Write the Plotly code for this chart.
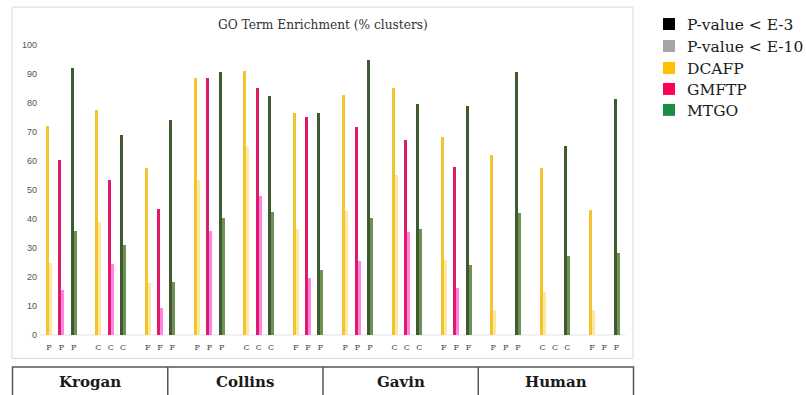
import plotly.graph_objects as go

# ---------------- data ----------------
datasets = ["Krogan", "Collins", "Gavin", "Human"]
ontologies = ["P", "C", "F"]
methods = ["DCAFP", "GMFTP", "MTGO"]

dcafp_e3 = [72, 77.5, 57.5, 88.5, 91.2, 76.5, 82.8, 85.3, 68.2, 62.1, 57.5, 43]
dcafp_e10 = [25, 39, 18, 53.5, 64.8, 36.7, 42.6, 55.2, 26, 8.5, 15, 8.5]
gmftp_e3 = [60.5, 53.5, 43.5, 88.5, 85.2, 75.1, 71.7, 67.3, 58.1, 0, 0, 0]
gmftp_e10 = [15.5, 24.5, 9.4, 35.7, 47.8, 19.7, 25.6, 35.4, 16.2, 0, 0, 0]
mtgo_e3 = [92, 69, 74, 90.8, 82.4, 76.5, 94.8, 79.7, 79, 90.8, 65.2, 81.4]
mtgo_e10 = [35.7, 31.2, 18.3, 40.3, 42.3, 22.5, 40.3, 36.6, 24.3, 42, 27.1, 28.3]

y_ticks = [0, 10, 20, 30, 40, 50, 60, 70, 80, 90, 100]
legend_labels = ["P-value < E-3", "P-value < E-10", "DCAFP", "GMFTP", "MTGO"]

# ---------------- styles ----------------
dark_colors = {"DCAFP": "#F5C32E", "GMFTP": "#E0196B", "MTGO": "#3F5A30"}
light_colors = {"DCAFP": "#FCE8A0", "GMFTP": "#FF85E0", "MTGO": "#6E9254"}
legend_colors = ["#000000", "#A6A6A6", "#FFC000", "#FF0055", "#1E8C46"]
SERIF = "DejaVu Serif"
SANS = "Liberation Sans"

W, H = 806, 395
L, R = 38, 625           # plot area pixel x
T, B = 45, 335.5         # plot area pixel y (100 -> T, 0 -> B)
slot_px = 12.34
first_px = 49
x0 = -(first_px - L) / slot_px
x1 = (R - first_px) / slot_px
bw = 3 / slot_px

def px(xp):
    return (xp - L) / (R - L)

def py(yp):
    return (B - yp) / (B - T)

series = {
    "DCAFP": (dcafp_e3, dcafp_e10),
    "GMFTP": (gmftp_e3, gmftp_e10),
    "MTGO": (mtgo_e3, mtgo_e10),
}

n_groups = len(datasets) * len(ontologies)
fig = go.Figure()

for m, name in enumerate(methods):
    e3, e10 = series[name]
    xs = [4 * g + m for g in range(n_groups)]
    fig.add_trace(go.Bar(x=xs, y=e3, width=bw, offset=-bw, marker_color=dark_colors[name],
                         marker_line_width=0, showlegend=False, name=name + " E-3"))
    fig.add_trace(go.Bar(x=xs, y=e10, width=bw, offset=0, marker_color=light_colors[name],
                         marker_line_width=0, showlegend=False, name=name + " E-10"))

tickvals, ticktext = [], []
for g in range(n_groups):
    for m in range(len(methods)):
        tickvals.append(4 * g + m)
        ticktext.append(ontologies[g % 3])

shapes = [
    dict(type="rect", xref="paper", yref="paper", x0=px(12), x1=px(633), y0=py(359), y1=py(7),
         line=dict(color="#D9D9D9", width=1), layer="below"),
    dict(type="line", xref="paper", yref="paper", x0=px(40), x1=px(625), y0=0, y1=0,
         line=dict(color="#E3E3E3", width=1), layer="below"),
    dict(type="rect", xref="paper", yref="paper", x0=px(12.5), x1=px(633.5), y0=py(398), y1=py(367.5),
         line=dict(color="#555555", width=1.5)),
]
tw = (633.5 - 12.5) / 4
annotations = [
    dict(text="GO Term Enrichment (% clusters)", xref="paper", yref="paper", x=px(322.5), y=py(25),
         showarrow=False, font=dict(family=SERIF, size=12.2, color="#333333"), xanchor="center", yanchor="middle"),
]
for i, ds in enumerate(datasets):
    if i > 0:
        xd = 12.5 + tw * i
        shapes.append(dict(type="line", xref="paper", yref="paper", x0=px(xd), x1=px(xd),
                           y0=py(398), y1=py(367.5), line=dict(color="#555555", width=1.5)))
    annotations.append(dict(text="<b>" + ds + "</b>", xref="paper", yref="paper",
                            x=px(12.5 + tw * (i + 0.5)), y=py(383), showarrow=False,
                            font=dict(family=SERIF, size=15, color="#1a1a1a"),
                            xanchor="center", yanchor="middle"))

# manual legend (squares + labels)
row_y = [24, 46, 68, 89, 110]
for lab, col, yy in zip(legend_labels, legend_colors, row_y):
    shapes.append(dict(type="rect", xref="paper", yref="paper", x0=px(663), x1=px(675),
                       y0=py(yy + 6), y1=py(yy - 6), fillcolor=col, line=dict(width=0)))
    annotations.append(dict(text=lab, xref="paper", yref="paper", x=px(685), y=py(yy + 1),
                            showarrow=False, xanchor="left", yanchor="middle",
                            font=dict(family=SERIF, size=15.5, color="#1a1a1a")))

fig.update_layout(
    width=W, height=H,
    margin=dict(l=L, r=W - R, t=T, b=H - B),
    paper_bgcolor="white", plot_bgcolor="white",
    barmode="overlay", bargap=0,
    showlegend=False,
    xaxis=dict(range=[x0, x1], tickvals=tickvals, ticktext=ticktext, showgrid=False,
               zeroline=False, showline=False, ticks="", ticklabelstandoff=6,
               tickfont=dict(family=SERIF, size=8, color="#444444")),
    yaxis=dict(range=[0, 100], tickvals=y_ticks, showgrid=False, zeroline=False, showline=False,
               ticks="", tickfont=dict(family=SANS, size=9, color="#555555")),
    shapes=shapes, annotations=annotations,
)

fig.write_html("out.html")
